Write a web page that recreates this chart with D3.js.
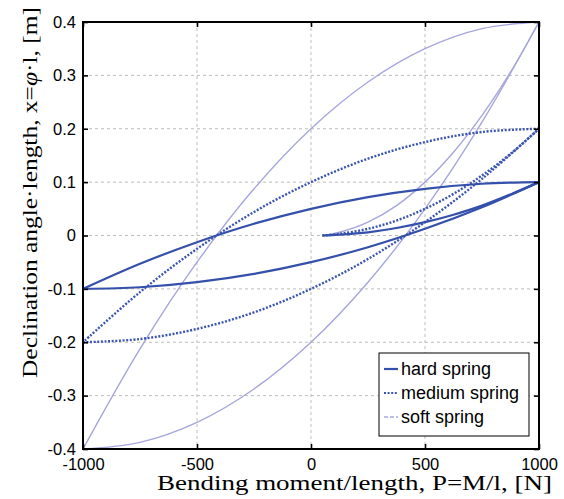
<!DOCTYPE html>
<html>
<head>
<meta charset="utf-8">
<script src="https://cdn.jsdelivr.net/npm/d3@7"></script>
<style>
  body { margin: 0; background: #fff; }
  .tick text { font-family: "Liberation Sans", Arial, sans-serif; font-size: 16.5px; fill: #000; }
</style>
</head>
<body>
<div id="chart"></div>
<script>
// x positions of the loop branches
const xInit = [50, 125, 250, 375, 500, 625, 750, 875, 1000];
const xDown = [1000, 750, 500, 250, 0, -250, -500, -750, -1000];
const xUp = [-1000, -750, -500, -250, 0, 250, 500, 750, 1000];

// hard spring
const hardInit = [0, 0.0016, 0.006, 0.014, 0.025, 0.039, 0.056, 0.077, 0.1];
const hardDown = [0.1, 0.097, 0.0875, 0.072, 0.05, 0.022, -0.0125, -0.053, -0.1];
const hardUp = [-0.1, -0.097, -0.0875, -0.072, -0.05, -0.022, 0.0125, 0.053, 0.1];

// medium spring
const mediumInit = [0, 0.003, 0.0125, 0.028, 0.05, 0.078, 0.1125, 0.153, 0.2];
const mediumDown = [0.2, 0.194, 0.175, 0.144, 0.1, 0.044, -0.025, -0.106, -0.2];
const mediumUp = [-0.2, -0.194, -0.175, -0.144, -0.1, -0.044, 0.025, 0.106, 0.2];

// soft spring
const softInit = [0, 0.006, 0.025, 0.056, 0.1, 0.156, 0.225, 0.306, 0.4];
const softDown = [0.4, 0.3875, 0.35, 0.2875, 0.2, 0.0875, -0.05, -0.2125, -0.4];
const softUp = [-0.4, -0.3875, -0.35, -0.2875, -0.2, -0.0875, 0.05, 0.2125, 0.4];

const seriesNames = ["hard spring", "medium spring", "soft spring"];
const xTicks = [-1000, -500, 0, 500, 1000];
const yTicks = [-0.4, -0.3, -0.2, -0.1, 0, 0.1, 0.2, 0.3, 0.4];

const width = 564;
const height = 499;
const plotL = 83, plotR = 539, plotT = 22, plotB = 449;

const svg = d3.select("#chart")
    .append("svg")
    .attr("width", width)
    .attr("height", height);

const x = d3.scaleLinear().domain([-1000, 1000]).range([plotL, plotR]);
const y = d3.scaleLinear().domain([-0.4, 0.4]).range([plotB, plotT]);

// grid
svg.append("g")
    .selectAll("line")
    .data(xTicks.slice(1, -1))
    .enter()
    .append("line")
    .attr("x1", d => x(d)).attr("x2", d => x(d))
    .attr("y1", plotT).attr("y2", plotB)
    .attr("stroke", "#bdbdbd")
    .attr("stroke-dasharray", "3,3");

svg.append("g")
    .selectAll("line")
    .data(yTicks.slice(1, -1))
    .enter()
    .append("line")
    .attr("y1", d => y(d)).attr("y2", d => y(d))
    .attr("x1", plotL).attr("x2", plotR)
    .attr("stroke", "#bdbdbd")
    .attr("stroke-dasharray", "3,3");

// curves
const styles = [
    { color: "#3450aa", width: 2.2, dash: null },
    { color: "#3a55b0", width: 2.4, dash: "2,1.6" },
    { color: "#a6a6de", width: 1.4, dash: null }
];

const seriesData = [
    [[xInit, hardInit], [xDown, hardDown], [xUp, hardUp]],
    [[xInit, mediumInit], [xDown, mediumDown], [xUp, mediumUp]],
    [[xInit, softInit], [xDown, softDown], [xUp, softUp]]
];

const line = d3.line()
    .x(d => x(d[0]))
    .y(d => y(d[1]))
    .curve(d3.curveCatmullRom.alpha(0.5));

// draw soft first so the darker lines sit on top
[2, 1, 0].forEach(i => {
    seriesData[i].forEach(branch => {
        const pts = branch[0].map((v, k) => [v, branch[1][k]]);
        svg.append("path")
            .attr("d", line(pts))
            .attr("fill", "none")
            .attr("stroke", styles[i].color)
            .attr("stroke-width", styles[i].width)
            .attr("stroke-dasharray", styles[i].dash);
    });
});

// axes
const fmt = d => String(d);

svg.append("g")
    .attr("transform", "translate(0," + plotB + ")")
    .call(d3.axisBottom(x).tickValues(xTicks).tickSize(-5).tickPadding(9).tickFormat(fmt))
    .call(g => g.select(".domain").remove());

svg.append("g")
    .attr("transform", "translate(" + plotL + ",0)")
    .call(d3.axisLeft(y).tickValues(yTicks).tickSize(-5).tickPadding(7).tickFormat(fmt))
    .call(g => g.select(".domain").remove());

svg.append("g")
    .attr("transform", "translate(0," + plotT + ")")
    .call(d3.axisTop(x).tickValues(xTicks).tickSize(-5).tickFormat(""))
    .call(g => g.select(".domain").remove());

svg.append("g")
    .attr("transform", "translate(" + plotR + ",0)")
    .call(d3.axisRight(y).tickValues(yTicks).tickSize(-5).tickFormat(""))
    .call(g => g.select(".domain").remove());

svg.selectAll(".tick line").attr("stroke", "#000").attr("stroke-width", 1.6);

svg.append("rect")
    .attr("x", plotL).attr("y", plotT)
    .attr("width", plotR - plotL).attr("height", plotB - plotT)
    .attr("fill", "none")
    .attr("stroke", "#000")
    .attr("stroke-width", 2);

// axis titles
svg.append("text")
    .attr("x", 157).attr("y", 490)
    .attr("textLength", 395)
    .attr("lengthAdjust", "spacingAndGlyphs")
    .style("font-family", "'Liberation Serif', 'DejaVu Serif', serif")
    .style("font-size", "20px")
    .text("Bending moment/length, P=M/l, [N]");

const yTitle = svg.append("text")
    .attr("transform", "translate(37,378) rotate(-90)")
    .attr("textLength", 371)
    .attr("lengthAdjust", "spacingAndGlyphs")
    .style("font-family", "'Liberation Serif', 'DejaVu Serif', serif")
    .style("font-size", "21px");
yTitle.append("tspan").text("Declination angle\u00b7length, x=");
yTitle.append("tspan").style("font-style", "italic").text("\u03c6");
yTitle.append("tspan").text("\u00b7l, [m]");

// legend
const legend = svg.append("g");
legend.append("rect")
    .attr("x", 379).attr("y", 353)
    .attr("width", 150).attr("height", 83)
    .attr("fill", "#fff")
    .attr("stroke", "#000")
    .attr("stroke-width", 1);

const legendDash = [null, "2,1.6", "4,2"];
const rows = legend.selectAll(".row")
    .data(seriesNames)
    .enter()
    .append("g")
    .attr("class", "row")
    .attr("transform", (d, i) => "translate(0," + (369 + i * 24) + ")");

rows.append("line")
    .attr("x1", 384).attr("x2", 398)
    .attr("stroke", (d, i) => styles[i].color)
    .attr("stroke-width", (d, i) => i === 2 ? 1.5 : 2.2)
    .attr("stroke-dasharray", (d, i) => legendDash[i]);

rows.append("text")
    .attr("x", 401)
    .attr("dy", "0.35em")
    .style("font-family", "'Liberation Sans', Arial, sans-serif")
    .style("font-size", "18px")
    .text(d => d);
</script>
</body>
</html>
